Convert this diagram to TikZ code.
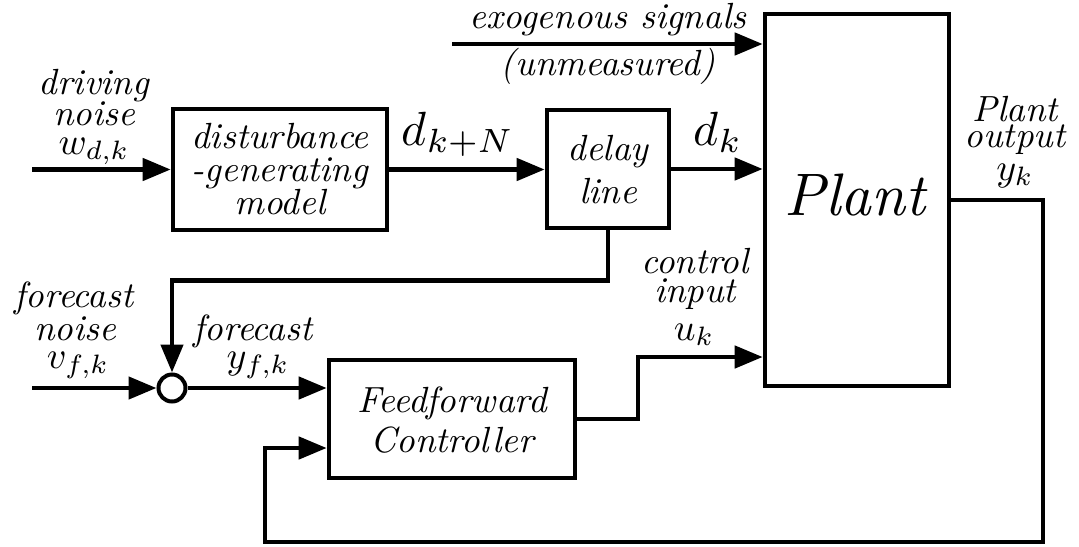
\documentclass[tikz,border=0pt]{standalone}
\usetikzlibrary{arrows.meta,calc}
\begin{document}
\begin{tikzpicture}[x=0.5pt,y=-0.5pt,
  wire/.style={line width=2.3pt},
  arr/.style={wire,-{Triangle[length=14pt,width=11pt]}},
  blk/.style={draw,line width=2.3pt,inner sep=0pt},
  txt/.style={font=\normalsize\itshape,scale=1.82,inner sep=0pt,anchor=base},
  mth/.style={font=\normalsize,scale=1.9,inner sep=0pt,anchor=base},
  bigm/.style={font=\normalsize,scale=2.4,inner sep=0pt,anchor=base},
  bigt/.style={font=\normalsize\itshape,scale=3.0,inner sep=0pt,anchor=base}]
\useasboundingbox (0,0) rectangle (1079,546);
% blocks
\node[blk,minimum width=107pt,minimum height=60.5pt] (dist) at (280,169.5) {};
\node[blk,minimum width=61pt,minimum height=59pt] (delay) at (608,169) {};
\node[blk,minimum width=92pt,minimum height=186pt] (plant) at (857,200) {};
\node[blk,minimum width=123pt,minimum height=59pt] (ff) at (452,419) {};
\node[draw,circle,line width=2pt,minimum size=13.5pt,inner sep=0pt] (sum) at (172,388) {};
% block texts
\node[txt] (t1) at (280,148) {disturbance};
\node[txt] (t2) at (280,181) {-generating};
\node[txt] (t3) at (280,214) {model};
\node[txt] (t4) at (608,160) {delay};
\node[txt] (t5) at (608,203) {line};
\node[txt] (t6) at (452,412) {Feedforward};
\node[txt] (t7) at (452,452) {Controller};
\node[bigt] (t8) at (855,215) {Plant};
% labels
\node[txt] (l1) at (94,94) {driving};
\node[txt] (l2) at (94,125) {noise};
\node[mth] (l3) at (94,154) {$w_{d,k}$};
\node[txt] (l4) at (608,28) {exogenous signals};
\node[txt] (l5) at (608,75) {(unmeasured)};
\node[bigm] (l6) at (458,145) {$d_{k+N}$};
\node[bigm] (l7) at (718,145) {$d_k$};
\node[txt] (l8) at (74,307) {forecast};
\node[txt] (l9) at (75,340) {noise};
\node[mth] (l10) at (78,368) {$v_{f,k}$};
\node[txt] (l11) at (253,340) {forecast};
\node[mth] (l12) at (258,368) {$y_{f,k}$};
\node[txt] (l13) at (695,273) {control};
\node[txt] (l14) at (695,302) {input};
\node[mth] (l15) at (694,340) {$u_k$};
\node[txt] (l16) at (1015,121) {Plant};
\node[txt] (l17) at (1015,147) {output};
\node[mth] (l18) at (1015,180) {$y_k$};
% coordinates
\coordinate (wd) at (32,169.5);
\coordinate (exo) at (452,44);
\coordinate (vf) at (32,388);
\coordinate (uk) at (638,357);
\coordinate (c1) at (1043,542);
\coordinate (c2) at (265,448);
% connectors
\draw[arr] (wd) -- (dist.west);
\draw[arr] (dist.east) -- (dist.east -| delay.west);
\draw[arr] (delay.east) -- (delay.east -| plant.west);
\draw[arr] (exo) -- (exo -| plant.west);
\draw[arr] (delay.south) -- ++(0,50) -| (sum.north);
\draw[arr] (vf) -- (sum.west);
\draw[arr] (sum.east) -- (sum.east -| ff.west);
\draw[arr] (ff.east) -| (uk) -- (uk -| plant.west);
\draw[arr] (plant.east) -| (c1) -| (c2) -- (c2 -| ff.west);
\end{tikzpicture}
\end{document}
